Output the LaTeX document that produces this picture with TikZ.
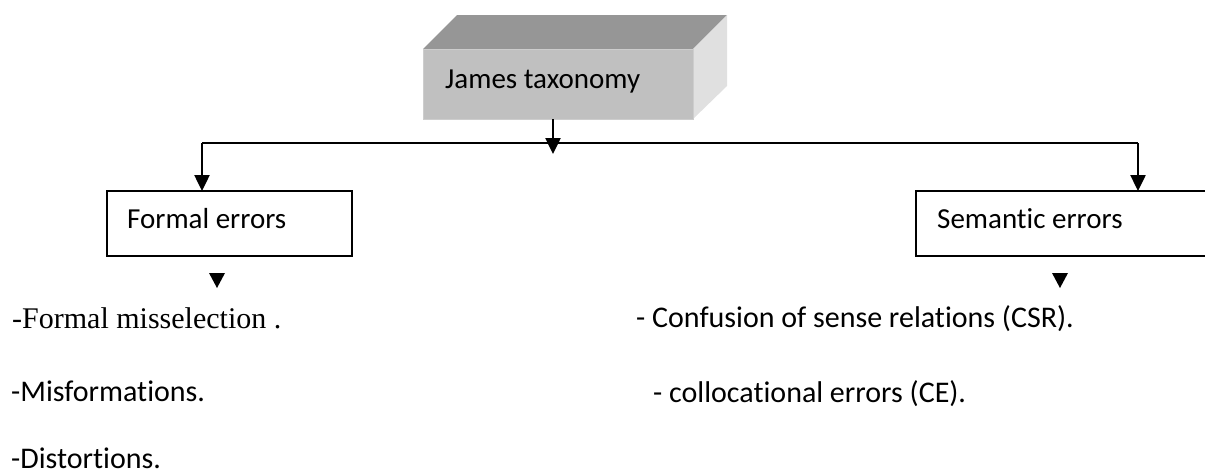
\documentclass[tikz,border=0pt]{standalone}
\usepackage{fontspec}
\setmainfont{Carlito}[Ligatures=NoCommon]
\newfontfamily\tnr{Liberation Serif}
\usetikzlibrary{arrows.meta,calc}
\definecolor{cubefront}{HTML}{C0C0C0}
\definecolor{cubetop}{HTML}{969696}
\definecolor{cubeside}{HTML}{E0E0E0}
\begin{document}
\begin{tikzpicture}[x=1pt,y=-1pt,
  boxstyle/.style={draw=black,line width=2pt,inner sep=0pt,anchor=north west},
  conn/.style={line width=2.5pt},
  arr/.style={line width=2.5pt,-{Triangle[length=16pt,width=15pt]}},
  boxtext/.style={anchor=base west,inner sep=0pt,font=\fontsize{29}{34}\selectfont},
  listtext/.style={anchor=base west,inner sep=0pt,font=\fontsize{30}{36}\selectfont},
  tri/.style={fill=black}]
\useasboundingbox (0,0) rectangle (1205,474);
\clip (0,0) rectangle (1205,474);
% cube
\fill[cubetop] (423,49) -- (457,15) -- (727,15) -- (693,49) -- cycle;
\fill[cubeside] (693,49) -- (727,15) -- (727,86) -- (693,119) -- cycle;
\node[fill=cubefront,draw=cubefront!80!white,line width=1pt,anchor=north west,minimum width=270pt,minimum height=70pt,inner sep=0pt] (cube) at (423,49) {};
\node[boxtext] (cubet) at (445,88) {James taxonomy};
% boxes
\node[boxstyle,minimum width=245pt,minimum height=65pt] (formal) at (106,190) {};
\node[boxtext] (formalt) at (127,228) {Formal errors};
\node[boxstyle,minimum width=300pt,minimum height=65pt] (semantic) at (915,190) {};
\node[boxtext] (semantict) at (937,228) {Semantic errors};
% connectors
\coordinate (hl) at (202,143);
\coordinate (hr) at (1138,143);
\coordinate (cs) at (553,119);
\coordinate (ct) at (553,154);
\draw[conn] (hl) -- (hr);
\draw[arr] (cs) -- (ct);
\draw[arr,shorten >=-1pt] (hl) -- (hl |- formal.north);
\draw[arr,shorten >=-1pt] (hr) -- (hr |- semantic.north);
% small triangles
\fill[tri] (209,273) -- (225,273) -- (217,288) -- cycle;
\fill[tri] (1052,273) -- (1068,273) -- (1060,288) -- cycle;
% lists
\node[listtext,font=\tnr\fontsize{30}{36}\selectfont] (l1) at (12,328) {-Formal misselection .};
\node[listtext] (l2) at (11,401) {-Misformations.};
\node[listtext] (l3) at (11,468) {-Distortions.};
\node[listtext] (r1) at (636,327) {- Confusion of sense relations (CSR).};
\node[listtext] (r2) at (653,402) {- collocational errors (CE).};
\end{tikzpicture}
\end{document}
